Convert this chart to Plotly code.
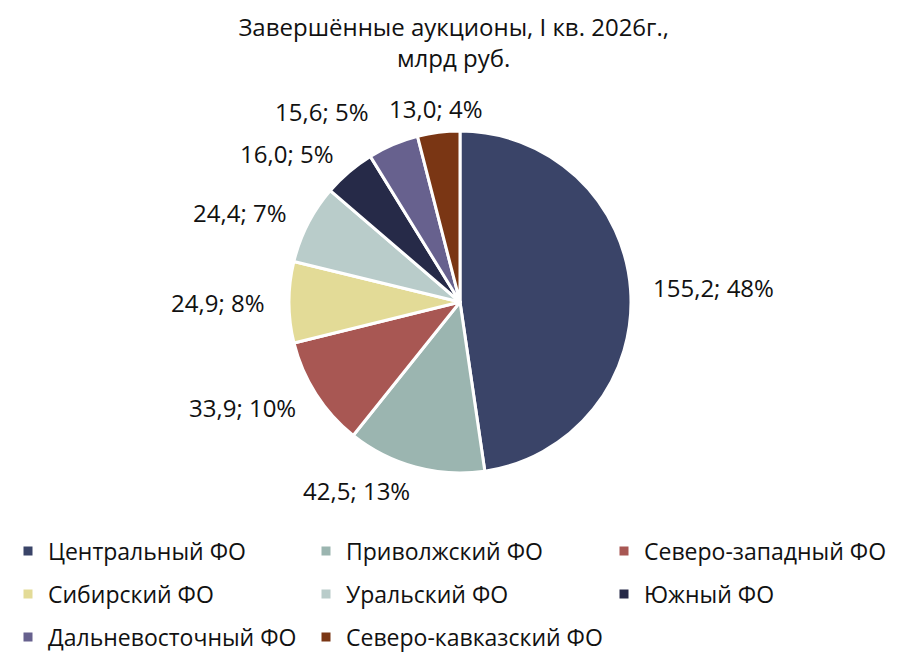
import math
import plotly.graph_objects as go

regions = ["Центральный ФО", "Приволжский ФО", "Северо-западный ФО", "Сибирский ФО",
           "Уральский ФО", "Южный ФО", "Дальневосточный ФО", "Северо-кавказский ФО"]
values = [155.2, 42.5, 33.9, 24.9, 24.4, 16.0, 15.6, 13.0]
colors = ["#3A4468", "#9BB5B0", "#A85753", "#E3DB97", "#B9CCCA", "#262A48", "#67618E", "#7A3614"]

FONT = "Open Sans, Noto Sans, sans-serif"
W, H = 904, 662
DOM_X = [0.3108, 0.6892]
DOM_Y = [0.2976, 0.8142]
LABEL_SIZE = 24

fig = go.Figure(go.Pie(
    labels=regions, values=values, sort=False, direction="clockwise", rotation=0,
    marker=dict(colors=colors, line=dict(color="white", width=3)),
    textinfo="none",
    domain=dict(x=DOM_X, y=DOM_Y),
    showlegend=False,
    hoverinfo="label+value+percent",
))

# outside data labels, placed from the slice mid-angles (derived from values)
total = sum(values)
cx_px = (DOM_X[0] + DOM_X[1]) / 2 * W
cy_px = (DOM_Y[0] + DOM_Y[1]) / 2 * H
radius_px = min((DOM_X[1] - DOM_X[0]) * W, (DOM_Y[1] - DOM_Y[0]) * H) / 2
label_r = radius_px + 24
line_h = LABEL_SIZE * 0.95

labels = []
cum = 0.0
for v in values:
    mid = (cum + v / 2) / total * 2 * math.pi
    cum += v
    s, c = math.sin(mid), math.cos(mid)
    pct = round(v / total * 100)
    txt = f"{v:.1f}".replace(".", ",") + f"; {pct}%"
    w = 0.49 * LABEL_SIZE * len(txt)
    px, py = cx_px + label_r * s, cy_px + label_r * c   # py measured upward
    if abs(s) < 0.2:
        left, ymid = px - w / 2, py
    else:
        left = px if s > 0 else px - w
        ymid = py + line_h / 2 if c > 0.9 else py
    labels.append(dict(txt=txt, left=left, w=w, ymid=ymid, s=s))

# simple overlap avoidance on the left half, working down from the top
placed = []
for lab in reversed(labels):
    if lab["s"] >= 0:
        continue
    for other in placed:
        if abs(other["ymid"] - lab["ymid"]) < line_h and lab["left"] + lab["w"] > other["left"] - 20:
            lab["left"] = other["left"] - 20 - lab["w"]
    placed.append(lab)

for lab in labels:
    fig.add_annotation(
        x=(lab["left"] + lab["w"] / 2) / W, y=lab["ymid"] / H,
        xref="paper", yref="paper", text=lab["txt"], showarrow=False,
        xanchor="center", yanchor="middle",
        font=dict(size=LABEL_SIZE, color="#111111", family=FONT),
    )

# legend rows (3 items per row), built from the same region/colour lists
row_y = [0.1797, 0.1147, 0.0498]
for i, (name, col) in enumerate(zip(regions, colors)):
    row = i // 3
    lg = "legend" if row == 0 else f"legend{row + 1}"
    fig.add_trace(go.Scatter(
        x=[None], y=[None], mode="markers", name=name,
        marker=dict(symbol="square", size=9, color=col),
        legend=lg, showlegend=True, hoverinfo="skip",
    ))

leg_common = dict(orientation="h", xanchor="left", yanchor="middle",
                  entrywidth=253, entrywidthmode="pixels", itemclick=False,
                  itemdoubleclick=False,
                  font=dict(size=23, color="#111111", family=FONT),
                  bgcolor="rgba(0,0,0,0)")

fig.update_layout(
    width=W, height=H,
    margin=dict(l=0, r=0, t=0, b=0),
    paper_bgcolor="white", plot_bgcolor="white",
    xaxis=dict(visible=False), yaxis=dict(visible=False),
    title=dict(text="Завершённые аукционы, I кв. 2026г.,<br>млрд руб.",
               x=0.493, xanchor="center", yref="container", y=0.958, yanchor="middle",
               font=dict(size=24, color="#111111", family=FONT)),
    legend=dict(x=0.0, y=row_y[0], **leg_common),
    legend2=dict(x=0.0, y=row_y[1], **leg_common),
    legend3=dict(x=0.0, y=row_y[2], **leg_common),
)

fig.write_html("out.html")
